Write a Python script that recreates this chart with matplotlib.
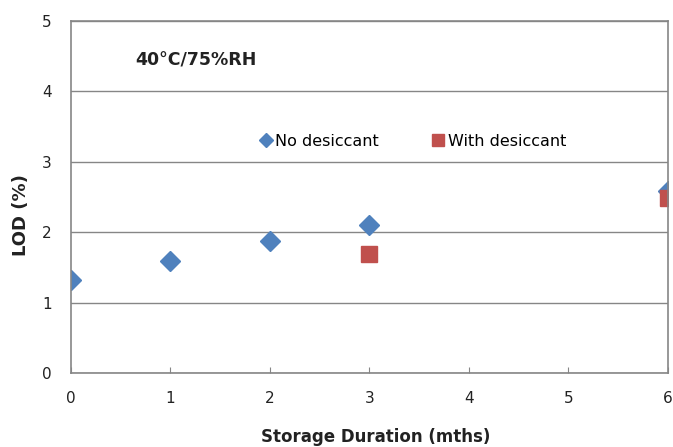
import matplotlib
matplotlib.use("Agg")
import matplotlib.pyplot as plt

# storage duration (months) and LOD (%)
months_no = [0, 1, 2, 3, 6]
lod_no = [1.32, 1.59, 1.88, 2.10, 2.58]
months_with = [3, 6]
lod_with = [1.69, 2.49]

BLUE = "#4F81BD"
RED = "#C0504D"
GREY = "#868686"
TXT = "#222222"

plt.rcParams["font.family"] = ["DejaVu Sans"]

fig = plt.figure(figsize=(6.73, 4.47), dpi=100)
ax = fig.add_axes([0.1055, 0.1655, 0.887, 0.7875])

ax.plot(months_no, lod_no, linestyle="none", marker="D", ms=10,
        color=BLUE, label="No desiccant")
ax.plot(months_with, lod_with, linestyle="none", marker="s", ms=12,
        color=RED, label="With desiccant")

ax.set_xlim(0, 6)
ax.set_ylim(0, 5)
ax.set_xticks(range(7))
ax.set_yticks(range(6))
ax.yaxis.grid(True, color=GREY, linewidth=1)
ax.set_axisbelow(True)

for s in ax.spines.values():
    s.set_color(GREY)
    s.set_linewidth(1.2)

ax.tick_params(axis="x", direction="in", length=4, color=GREY,
               labelsize=11, pad=13, labelcolor=TXT)
ax.tick_params(axis="y", length=0, labelsize=11, pad=14, labelcolor=TXT)

ax.set_xlabel("Storage Duration (mths)", fontsize=12, fontweight="bold",
              color=TXT)
ax.xaxis.set_label_coords(0.51, -0.155)
ax.set_ylabel("LOD (%)", fontsize=13, fontweight="bold", color=TXT)
ax.yaxis.set_label_coords(-0.069, 0.449)

ax.text(0.107, 0.889, "40\u00b0C/75%RH", transform=ax.transAxes,
        fontsize=12.5, fontweight="bold", va="center", ha="left", color=TXT)

ax.legend(loc="center", bbox_to_anchor=(0.571, 0.659), ncol=2,
          frameon=False, fontsize=11.5, handletextpad=0.1,
          columnspacing=3.2, handlelength=1.0, markerscale=0.7)

fig.savefig("out.png", dpi=100)
